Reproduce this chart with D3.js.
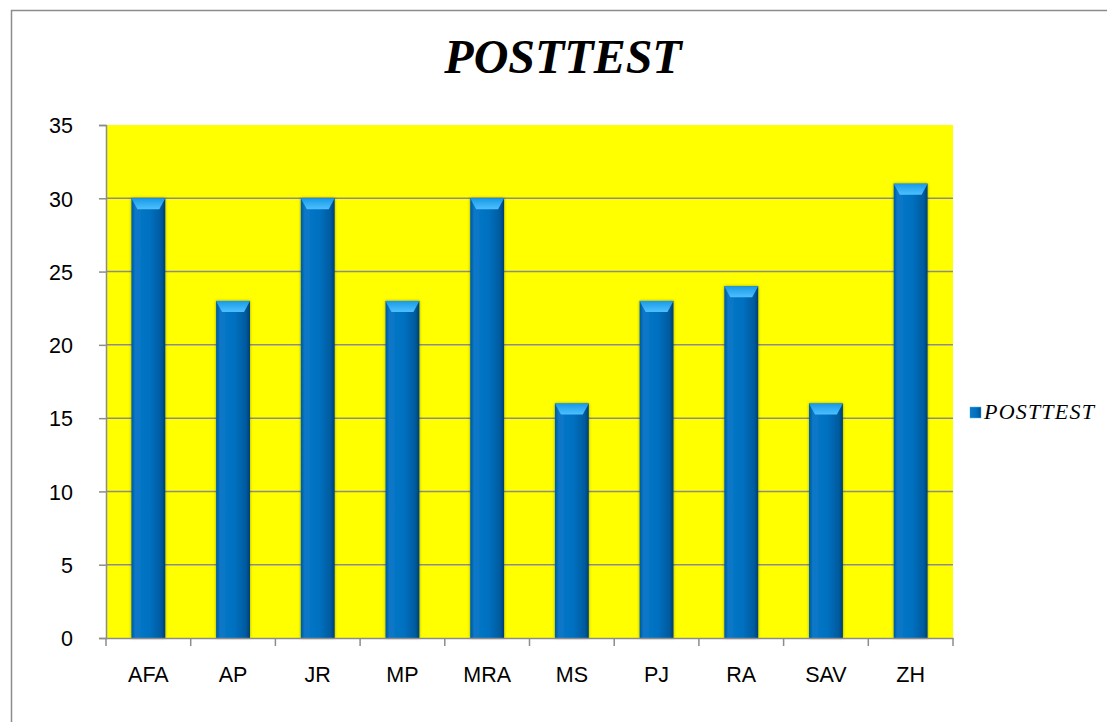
<!DOCTYPE html>
<html>
<head>
<meta charset="utf-8">
<script src="https://cdn.jsdelivr.net/npm/d3@7"></script>
<style>
  body { margin: 0; background: #fff; }
</style>
</head>
<body>
<svg width="1107" height="722"></svg>
<script>
// Data.
var categories = ["AFA", "AP", "JR", "MP", "MRA", "MS", "PJ", "RA", "SAV", "ZH"];
var values = [30, 23, 30, 23, 30, 16, 23, 24, 16, 31];
var yTicks = [0, 5, 10, 15, 20, 25, 30, 35];
var seriesName = "POSTTEST";

var svg = d3.select("svg");
var margin = { left: 106, top: 125, right: 953, bottom: 638 };

// Outer chart border (only left and top are visible in the frame).
svg.append("rect")
	.attr("x", 11.5).attr("y", 10.5)
	.attr("width", 1120).attr("height", 740)
	.attr("fill", "none")
	.attr("stroke", "#8c8c8c")
	.attr("stroke-width", 1.5);

// Gradients for the bevelled bars.
var defs = svg.append("defs");
var body = defs.append("linearGradient").attr("id", "barBody")
	.attr("x1", "0").attr("x2", "1").attr("y1", "0").attr("y2", "0");
body.append("stop").attr("offset", "0").attr("stop-color", "#005a9c");
body.append("stop").attr("offset", "0.12").attr("stop-color", "#0a78c8");
body.append("stop").attr("offset", "0.55").attr("stop-color", "#0070c0");
body.append("stop").attr("offset", "0.88").attr("stop-color", "#005b9e");
body.append("stop").attr("offset", "1").attr("stop-color", "#003f70");
var cap = defs.append("linearGradient").attr("id", "barCap")
	.attr("x1", "0").attr("x2", "0").attr("y1", "0").attr("y2", "1");
cap.append("stop").attr("offset", "0").attr("stop-color", "#1a9ae6");
cap.append("stop").attr("offset", "1").attr("stop-color", "#4cc0ff");
var shadow = defs.append("filter").attr("id", "shadow")
	.attr("x", "-30%").attr("y", "-10%").attr("width", "160%").attr("height", "120%");
shadow.append("feDropShadow").attr("dx", 0).attr("dy", 0)
	.attr("stdDeviation", 1.5).attr("flood-color", "#000").attr("flood-opacity", 0.35);

// Scales.
var x = d3.scaleBand().domain(categories).range([margin.left, margin.right]).paddingInner(0.6).paddingOuter(0.3);
var xEdge = d3.scaleBand().domain(categories).range([margin.left, margin.right]);
var y = d3.scaleLinear().domain([0, 35]).range([margin.bottom, margin.top]);

// Plot area.
svg.append("rect")
	.attr("x", margin.left).attr("y", margin.top)
	.attr("width", margin.right - margin.left)
	.attr("height", margin.bottom - margin.top)
	.attr("fill", "#ffff00");

// Gridlines.
svg.append("g").selectAll("line")
	.data(yTicks.filter(function(d) { return d > 0 && d < 35; }))
	.enter().append("line")
	.attr("x1", margin.left).attr("x2", margin.right)
	.attr("y1", function(d) { return y(d); })
	.attr("y2", function(d) { return y(d); })
	.attr("stroke", "#8c8c8c")
	.attr("stroke-width", 1.5);

// Bars.
var bars = svg.append("g").selectAll("g")
	.data(values)
	.enter().append("g")
	.attr("filter", "url(#shadow)");
bars.append("rect")
	.attr("x", function(d, i) { return x(categories[i]); })
	.attr("y", function(d) { return y(d); })
	.attr("width", x.bandwidth())
	.attr("height", function(d) { return y(0) - y(d); })
	.attr("fill", "url(#barBody)");
bars.append("path")
	.attr("d", function(d, i) {
		var x0 = x(categories[i]), w = x.bandwidth(), t = y(d), h = 11, b = 6;
		return "M" + x0 + "," + t + "L" + (x0 + w) + "," + t +
			"L" + (x0 + w - b) + "," + (t + h) + "L" + (x0 + b) + "," + (t + h) + "Z";
	})
	.attr("fill", "url(#barCap)");

// Axes.
var yAxis = d3.axisLeft(y).tickValues(yTicks).tickSize(7).tickPadding(26);
var gy = svg.append("g").attr("transform", "translate(" + margin.left + ",0)").call(yAxis);
var gx = svg.append("g").attr("transform", "translate(0," + margin.bottom + ")")
	.call(d3.axisBottom(x).tickSize(0).tickPadding(29));
// Tick marks on the category boundaries.
gx.append("g").selectAll("line")
	.data(categories.concat(["end"]))
	.enter().append("line")
	.attr("x1", function(d, i) { return margin.left + i * xEdge.step(); })
	.attr("x2", function(d, i) { return margin.left + i * xEdge.step(); })
	.attr("y1", 0).attr("y2", 8)
	.attr("stroke", "#8c8c8c").attr("stroke-width", 1.5);

[gx, gy].forEach(function(g) {
	g.select(".domain").attr("stroke", "#8c8c8c").attr("stroke-width", 1.5);
	g.selectAll(".tick line").attr("stroke", "#8c8c8c").attr("stroke-width", 1.5);
	g.selectAll("text")
		.attr("fill", "#000")
		.style("font-family", "'Liberation Sans', Arial, sans-serif")
		.style("font-size", "21.5px");
});
gy.selectAll(".tick text").attr("dy", "0.36em");

// Title.
svg.append("text")
	.attr("x", 563).attr("y", 73)
	.attr("text-anchor", "middle")
	.style("font-family", "'Liberation Serif', 'Times New Roman', serif")
	.style("font-size", "48px")
	.style("font-weight", "bold")
	.style("font-style", "italic")
	.text(seriesName);

// Legend.
var legend = svg.append("g").attr("transform", "translate(970,407)");
legend.append("rect").attr("width", 11).attr("height", 11)
	.attr("fill", "url(#barBody)").attr("stroke", "#4cc0ff").attr("stroke-width", 0.5);
legend.append("text")
	.attr("x", 14).attr("y", 12)
	.style("font-family", "'Liberation Serif', 'Times New Roman', serif")
	.style("font-size", "22px")
	.style("letter-spacing", "1.2px")
	.style("font-style", "italic")
	.text(seriesName);
</script>
</body>
</html>
